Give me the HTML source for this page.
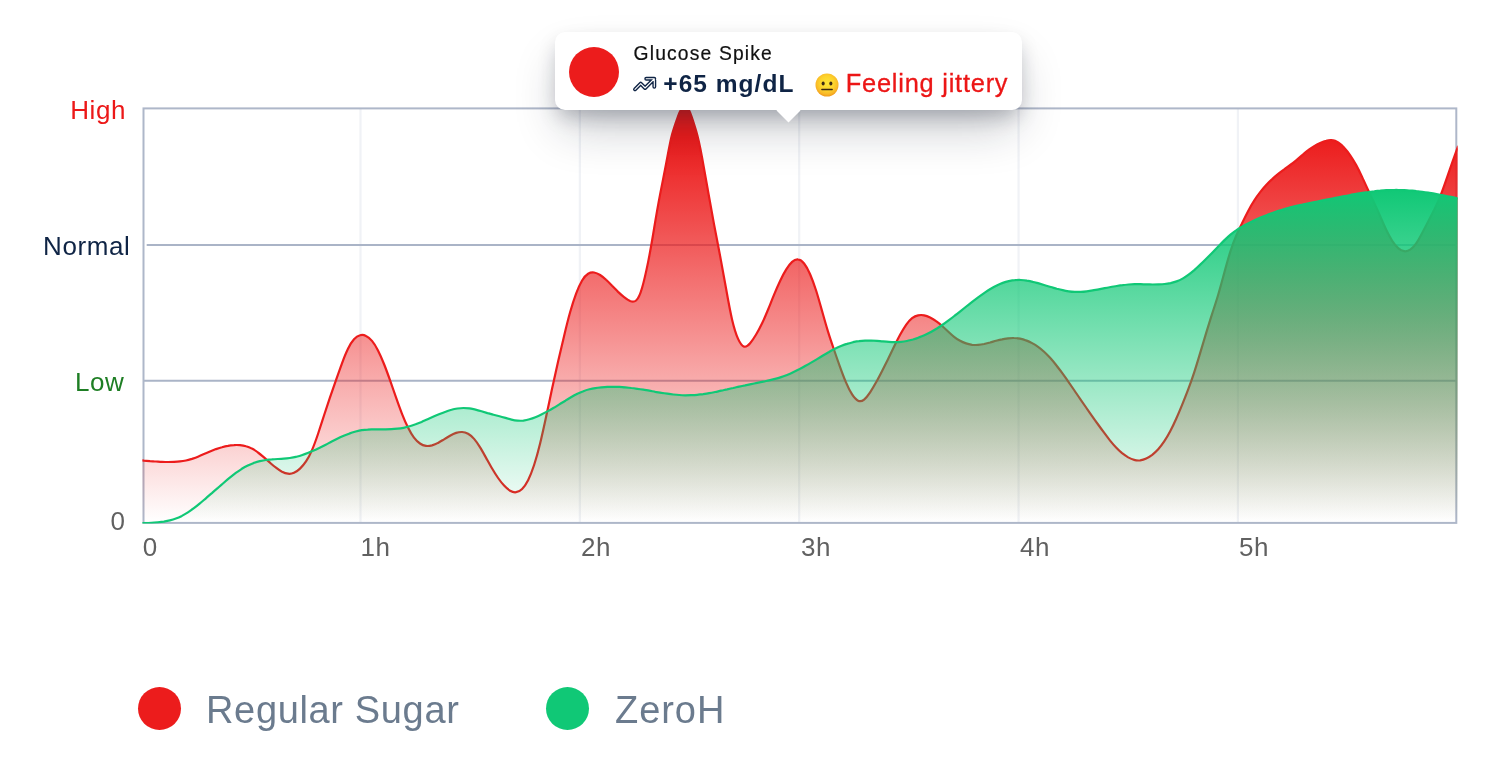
<!DOCTYPE html>
<html lang="en">
<head>
<meta charset="utf-8">
<title>Glucose chart</title>
<style>
  html, body { margin: 0; padding: 0; background: #ffffff; }
  body { width: 1500px; height: 775px; position: relative; overflow: hidden;
         font-family: "Liberation Sans", sans-serif; }
  #chart { position: absolute; left: 0; top: 0; width: 1500px; height: 775px; display: block; }
  .ylab { font-size: 26px; letter-spacing: 0.6px; }
  .xlab { font-size: 26px; fill: #616161; letter-spacing: 0.6px; }
  #tip { position: absolute; left: 555px; top: 32px; width: 467px; height: 78px;
         background: #ffffff; border-radius: 10px;
         box-shadow: 0 9px 20px -4px rgba(15, 23, 42, 0.27), 0 24px 48px -7px rgba(15, 23, 42, 0.24); }
  #tip .arrow { position: absolute; left: 225px; top: 69.5px; width: 17px; height: 17px;
         background: #ffffff; transform: rotate(45deg); }
  #tip .dot { position: absolute; left: 13.8px; top: 14.6px; width: 50px; height: 50px;
         border-radius: 50%; background: #ec1c1c; }
  #tip .title { position: absolute; left: 78.6px; top: 9.7px; font-size: 19.3px; line-height: 24px;
         color: #111111; letter-spacing: 1.15px; white-space: nowrap; -webkit-text-stroke: 0.2px #111111; }
  #tip .val { position: absolute; left: 108.3px; top: 36.5px; font-size: 24.5px; line-height: 30px;
         font-weight: 700; color: #0f2445; letter-spacing: 1.03px; white-space: nowrap; }
  #tip .feel { position: absolute; left: 290.8px; top: 36.4px; font-size: 25.4px; line-height: 30px;
         color: #ec1616; letter-spacing: 0.77px; white-space: nowrap; -webkit-text-stroke: 0.3px #ec1616; }
  #tip svg.trend { position: absolute; left: 76px; top: 42px; width: 28px; height: 20px; overflow: visible; }
  #tip svg.face { position: absolute; left: 259.1px; top: 39.6px; width: 26px; height: 26px; overflow: visible; }
  .legend { position: absolute; top: 687px; height: 43px; }
  .legend .dot { position: absolute; left: 0; top: 0; width: 43px; height: 43px; border-radius: 50%; }
  .legend .txt { position: absolute; left: 68px; top: 1px; font-size: 38px; line-height: 44px;
         color: #6b7b8e; white-space: nowrap; letter-spacing: 0.65px; }
</style>
</head>
<body>
<svg id="chart" viewBox="0 0 1500 775">
  <defs>
    <linearGradient id="gRed" gradientUnits="userSpaceOnUse" x1="0" y1="138" x2="0" y2="522">
      <stop offset="0" stop-color="#ec1c1c" stop-opacity="1"/>
      <stop offset="1" stop-color="#ec1c1c" stop-opacity="0"/>
    </linearGradient>
    <linearGradient id="gGrn" gradientUnits="userSpaceOnUse" x1="0" y1="189" x2="0" y2="522">
      <stop offset="0" stop-color="#10c876" stop-opacity="1"/>
      <stop offset="1" stop-color="#10c876" stop-opacity="0"/>
    </linearGradient>
    <clipPath id="plot"><rect x="142.4" y="100" width="1315.2" height="423.5"/></clipPath>
  </defs>

  <!-- vertical grid -->
  <g stroke="#f0f2f6" stroke-width="2.2">
    <line x1="360.5" y1="109" x2="360.5" y2="522"/>
    <line x1="579.85" y1="109" x2="579.85" y2="522"/>
    <line x1="799.2" y1="109" x2="799.2" y2="522"/>
    <line x1="1018.55" y1="109" x2="1018.55" y2="522"/>
    <line x1="1237.9" y1="109" x2="1237.9" y2="522"/>
  </g>
  <!-- horizontal grid -->
  <g stroke="#aab4c7" stroke-width="2">
    <line x1="146.7" y1="245" x2="1456" y2="245"/>
    <line x1="144" y1="380.7" x2="1456" y2="380.7"/>
  </g>

  <!-- frame -->
  <rect x="143.5" y="108.4" width="1312.8" height="414.5" fill="none" stroke="#aeb7c9" stroke-width="2"/>

  <!-- series -->
  <g clip-path="url(#plot)">
    <path d="M120.0 458.5C122.0 458.7 124.0 458.9 126.0 459.1C128.0 459.2 130.0 459.4 132.0 459.6C134.0 459.8 136.0 459.9 138.0 460.1C140.0 460.3 142.0 460.4 144.0 460.6C146.0 460.7 148.0 460.9 150.0 461.1C152.0 461.2 154.0 461.4 156.0 461.5C158.0 461.6 160.0 461.8 162.0 461.8C164.0 461.9 166.0 462.0 168.0 462.0C170.0 462.0 172.0 462.0 174.0 461.9C176.0 461.8 178.0 461.7 180.0 461.4C182.0 461.2 184.0 460.9 186.0 460.5C188.0 460.1 190.0 459.5 192.0 458.9C194.0 458.2 196.0 457.5 198.0 456.7C200.0 455.9 202.0 455.0 204.0 454.1C206.0 453.3 208.0 452.4 210.0 451.5C212.0 450.7 214.0 449.9 216.0 449.1C218.0 448.4 220.0 447.7 222.0 447.2C224.0 446.6 226.0 446.1 228.0 445.8C230.0 445.4 232.0 445.2 234.0 445.1C236.0 444.9 238.0 445.0 240.0 445.1C242.0 445.3 244.0 445.6 246.0 446.2C248.0 446.7 250.0 447.5 252.0 448.6C254.0 449.6 256.0 450.9 258.0 452.5C260.0 454.0 262.0 455.7 264.0 457.4C266.0 459.2 268.0 461.0 270.0 462.7C272.0 464.5 274.0 466.2 276.0 467.7C278.0 469.3 280.0 470.6 282.0 471.7C284.0 472.7 286.0 473.5 288.0 473.7C290.0 474.0 292.0 473.7 294.0 472.8C296.0 471.9 298.0 470.5 300.0 468.6C302.0 466.7 304.0 464.4 306.0 461.4C308.0 458.5 310.0 454.8 312.0 450.1C314.0 445.5 316.0 439.9 318.0 434.0C320.0 428.0 322.0 421.7 324.0 415.5C326.0 409.3 328.0 403.3 330.0 397.4C332.0 391.6 334.0 385.8 336.0 380.1C338.0 374.4 340.0 368.7 342.0 363.3C344.0 357.9 346.0 352.9 348.0 348.8C350.0 344.7 352.0 341.5 354.0 339.3C356.0 337.1 358.0 335.8 360.0 335.3C362.0 334.7 364.0 334.9 366.0 335.9C368.0 336.8 370.0 338.5 372.0 340.9C374.0 343.3 376.0 346.5 378.0 350.4C380.0 354.3 382.0 358.9 384.0 364.0C386.0 369.0 388.0 374.5 390.0 380.1C392.0 385.8 394.0 391.7 396.0 397.4C398.0 403.1 400.0 408.7 402.0 413.8C404.0 418.9 406.0 423.5 408.0 427.5C410.0 431.5 412.0 434.9 414.0 437.6C416.0 440.2 418.0 442.2 420.0 443.5C422.0 444.9 424.0 445.6 426.0 445.9C428.0 446.2 430.0 445.9 432.0 445.4C434.0 444.8 436.0 444.0 438.0 442.9C440.0 441.9 442.0 440.6 444.0 439.4C446.0 438.1 448.0 436.9 450.0 435.7C452.0 434.6 454.0 433.6 456.1 432.9C458.1 432.2 460.1 431.9 462.1 432.0C464.1 432.1 466.1 432.7 468.1 433.8C470.1 434.9 472.1 436.6 474.1 438.9C476.1 441.2 478.1 444.1 480.1 447.4C482.1 450.6 484.1 454.3 486.1 457.9C488.1 461.5 490.1 465.2 492.1 468.5C494.1 471.9 496.1 475.1 498.1 478.0C500.1 480.8 502.1 483.4 504.1 485.6C506.1 487.8 508.1 489.6 510.1 490.7C512.1 491.9 514.1 492.5 516.1 492.2C518.1 492.0 520.1 491.0 522.1 489.0C524.1 487.0 526.1 484.1 528.1 480.2C530.1 476.2 532.1 471.1 534.1 465.0C536.1 458.9 538.1 451.7 540.1 443.5C542.1 435.3 544.1 426.2 546.1 416.8C548.1 407.4 550.1 397.9 552.1 388.5C554.1 379.2 556.1 370.2 558.1 361.4C560.1 352.7 562.1 344.2 564.1 335.9C566.1 327.5 568.1 319.4 570.1 312.3C572.1 305.2 574.1 298.9 576.1 293.6C578.1 288.3 580.1 283.9 582.1 280.5C584.1 277.1 586.1 274.9 588.1 273.7C590.1 272.5 592.1 272.2 594.1 272.5C596.1 272.8 598.1 273.7 600.1 275.0C602.1 276.3 604.1 277.9 606.1 279.8C608.1 281.6 610.1 283.7 612.1 285.8C614.1 287.8 616.1 289.9 618.1 291.9C620.1 293.8 622.1 295.6 624.1 297.1C626.1 298.7 628.1 300.1 630.1 301.0C632.1 301.8 634.1 302.1 636.1 300.5C638.1 298.9 640.1 294.9 642.1 287.8C644.1 280.8 646.1 271.9 648.1 262.1C650.1 252.3 652.1 240.7 654.1 228.5C656.1 216.3 658.1 204.7 660.1 194.4C662.1 184.0 664.1 174.3 666.1 163.8C668.1 153.4 670.1 141.7 672.1 134.4C674.1 127.1 676.1 121.8 678.1 116.2C680.1 110.7 682.1 106.7 684.1 106.0C686.1 105.3 688.1 107.6 690.1 112.6C692.1 117.6 694.1 124.0 696.1 130.9C698.1 137.7 700.1 146.9 702.1 157.7C704.1 168.4 706.1 180.0 708.1 191.5C710.1 203.0 712.1 214.1 714.1 224.6C716.1 235.2 718.1 245.3 720.1 255.9C722.1 266.5 724.1 277.5 726.1 288.8C728.1 300.1 730.1 311.2 732.1 319.7C734.1 328.2 736.1 334.5 738.1 338.9C740.1 343.4 742.1 346.0 744.1 346.6C746.1 347.2 748.1 345.7 750.1 343.3C752.1 340.9 754.1 337.8 756.1 334.5C758.1 331.2 760.1 327.5 762.1 323.3C764.1 319.1 766.1 314.4 768.1 309.5C770.1 304.6 772.1 299.5 774.1 294.7C776.1 289.8 778.1 285.2 780.1 281.0C782.1 276.7 784.1 272.9 786.1 269.7C788.1 266.4 790.1 263.7 792.1 261.9C794.1 260.1 796.1 259.1 798.1 259.4C800.1 259.6 802.1 261.0 804.1 263.5C806.1 266.0 808.1 269.6 810.1 274.2C812.1 278.8 814.1 284.3 816.1 290.5C818.1 296.8 820.1 303.9 822.1 311.1C824.1 318.2 826.1 325.4 828.1 331.9C830.1 338.4 832.1 344.2 834.1 350.0C836.1 355.8 838.1 361.6 840.1 367.1C842.1 372.7 844.1 378.0 846.1 382.6C848.1 387.3 850.1 391.3 852.1 394.4C854.1 397.5 856.1 399.8 858.1 400.7C860.1 401.7 862.1 401.2 864.1 399.6C866.1 398.0 868.1 395.4 870.1 392.4C872.1 389.3 874.1 385.9 876.1 382.3C878.1 378.7 880.1 374.8 882.1 370.9C884.1 367.0 886.1 362.9 888.1 358.9C890.1 354.8 892.1 350.6 894.1 346.5C896.1 342.5 898.1 338.5 900.1 334.8C902.1 331.1 904.1 327.7 906.1 324.8C908.1 322.0 910.1 319.7 912.1 318.1C914.1 316.6 916.1 315.7 918.1 315.3C920.1 314.9 922.1 314.9 924.1 315.3C926.1 315.7 928.1 316.5 930.1 317.5C932.1 318.5 934.1 319.7 936.1 321.2C938.1 322.6 940.1 324.2 942.1 326.0C944.1 327.7 946.1 329.6 948.1 331.5C950.1 333.4 952.1 335.2 954.1 336.8C956.1 338.4 958.1 339.7 960.1 340.8C962.1 341.9 964.1 342.7 966.1 343.4C968.1 344.1 970.1 344.5 972.1 344.8C974.1 345.0 976.1 345.1 978.1 344.9C980.1 344.7 982.1 344.4 984.1 344.0C986.1 343.5 988.1 343.0 990.1 342.5C992.1 341.9 994.1 341.4 996.1 340.8C998.1 340.3 1000.1 339.8 1002.1 339.4C1004.1 338.9 1006.1 338.6 1008.1 338.3C1010.1 338.1 1012.1 337.9 1014.1 338.0C1016.1 338.0 1018.1 338.2 1020.1 338.6C1022.1 339.0 1024.1 339.6 1026.1 340.4C1028.1 341.1 1030.1 342.0 1032.1 343.1C1034.1 344.2 1036.1 345.4 1038.1 346.8C1040.1 348.2 1042.1 349.9 1044.1 351.7C1046.1 353.5 1048.1 355.6 1050.1 357.8C1052.1 360.0 1054.1 362.4 1056.1 365.0C1058.1 367.5 1060.1 370.2 1062.1 372.9C1064.1 375.6 1066.1 378.5 1068.1 381.3C1070.1 384.2 1072.1 387.1 1074.1 390.0C1076.1 393.0 1078.1 395.9 1080.1 398.8C1082.1 401.7 1084.1 404.6 1086.1 407.5C1088.1 410.4 1090.1 413.2 1092.1 416.1C1094.1 418.9 1096.1 421.7 1098.1 424.5C1100.1 427.3 1102.1 430.0 1104.1 432.7C1106.1 435.4 1108.1 438.1 1110.1 440.6C1112.1 443.1 1114.1 445.4 1116.1 447.5C1118.1 449.6 1120.1 451.5 1122.1 453.2C1124.2 454.8 1126.2 456.2 1128.2 457.4C1130.2 458.5 1132.2 459.4 1134.2 459.9C1136.2 460.5 1138.2 460.6 1140.2 460.4C1142.2 460.1 1144.2 459.5 1146.2 458.5C1148.2 457.6 1150.2 456.3 1152.2 454.8C1154.2 453.2 1156.2 451.4 1158.2 449.2C1160.2 447.0 1162.2 444.4 1164.2 441.4C1166.2 438.4 1168.2 435.0 1170.2 431.2C1172.2 427.4 1174.2 423.2 1176.2 418.7C1178.2 414.3 1180.2 409.5 1182.2 404.6C1184.2 399.7 1186.2 394.7 1188.2 389.4C1190.2 384.2 1192.2 378.6 1194.2 372.4C1196.2 366.3 1198.2 359.6 1200.2 352.9C1202.2 346.2 1204.2 339.4 1206.2 332.9C1208.2 326.3 1210.2 319.8 1212.2 313.6C1214.2 307.4 1216.2 301.4 1218.2 294.7C1220.2 288.1 1222.2 280.5 1224.2 273.1C1226.2 265.7 1228.2 258.5 1230.2 252.1C1232.2 245.7 1234.2 240.4 1236.2 235.8C1238.2 231.2 1240.2 227.1 1242.2 222.9C1244.2 218.7 1246.2 214.7 1248.2 210.9C1250.2 207.1 1252.2 203.7 1254.2 200.6C1256.2 197.4 1258.2 194.6 1260.2 192.1C1262.2 189.5 1264.2 187.2 1266.2 185.0C1268.2 182.9 1270.2 180.9 1272.2 179.1C1274.2 177.2 1276.2 175.5 1278.2 173.9C1280.2 172.3 1282.2 170.8 1284.2 169.4C1286.2 167.9 1288.2 166.5 1290.2 165.0C1292.2 163.5 1294.2 162.0 1296.2 160.3C1298.2 158.7 1300.2 156.9 1302.2 155.2C1304.2 153.4 1306.2 151.7 1308.2 150.2C1310.2 148.6 1312.2 147.3 1314.2 146.1C1316.2 144.9 1318.2 143.9 1320.2 143.0C1322.2 142.1 1324.2 141.2 1326.2 140.7C1328.2 140.1 1330.2 139.8 1332.2 140.2C1334.2 140.5 1336.2 141.3 1338.2 142.5C1340.2 143.8 1342.2 145.5 1344.2 147.7C1346.2 149.8 1348.2 152.3 1350.2 155.3C1352.2 158.2 1354.2 161.5 1356.2 165.1C1358.2 168.8 1360.2 172.8 1362.2 177.1C1364.2 181.5 1366.2 186.0 1368.2 190.2C1370.2 194.5 1372.2 198.6 1374.2 202.9C1376.2 207.1 1378.2 211.6 1380.2 216.2C1382.2 220.8 1384.2 225.5 1386.2 229.8C1388.2 234.0 1390.2 237.7 1392.2 240.8C1394.2 243.9 1396.2 246.4 1398.2 248.1C1400.2 249.9 1402.2 250.9 1404.2 251.2C1406.2 251.5 1408.2 251.0 1410.2 249.7C1412.2 248.4 1414.2 246.2 1416.2 243.3C1418.2 240.4 1420.2 236.7 1422.2 232.9C1424.2 229.1 1426.2 225.3 1428.2 221.4C1430.2 217.6 1432.2 213.8 1434.2 209.7C1436.2 205.6 1438.2 201.2 1440.2 196.3C1442.2 191.4 1444.2 185.8 1446.2 179.9C1448.2 174.1 1450.2 168.2 1452.2 162.5C1454.2 156.9 1456.2 151.3 1458.2 145.8L1458.2 523.2L120.0 523.2Z" fill="url(#gRed)"/>
    <path d="M120.0 458.5C122.0 458.7 124.0 458.9 126.0 459.1C128.0 459.2 130.0 459.4 132.0 459.6C134.0 459.8 136.0 459.9 138.0 460.1C140.0 460.3 142.0 460.4 144.0 460.6C146.0 460.7 148.0 460.9 150.0 461.1C152.0 461.2 154.0 461.4 156.0 461.5C158.0 461.6 160.0 461.8 162.0 461.8C164.0 461.9 166.0 462.0 168.0 462.0C170.0 462.0 172.0 462.0 174.0 461.9C176.0 461.8 178.0 461.7 180.0 461.4C182.0 461.2 184.0 460.9 186.0 460.5C188.0 460.1 190.0 459.5 192.0 458.9C194.0 458.2 196.0 457.5 198.0 456.7C200.0 455.9 202.0 455.0 204.0 454.1C206.0 453.3 208.0 452.4 210.0 451.5C212.0 450.7 214.0 449.9 216.0 449.1C218.0 448.4 220.0 447.7 222.0 447.2C224.0 446.6 226.0 446.1 228.0 445.8C230.0 445.4 232.0 445.2 234.0 445.1C236.0 444.9 238.0 445.0 240.0 445.1C242.0 445.3 244.0 445.6 246.0 446.2C248.0 446.7 250.0 447.5 252.0 448.6C254.0 449.6 256.0 450.9 258.0 452.5C260.0 454.0 262.0 455.7 264.0 457.4C266.0 459.2 268.0 461.0 270.0 462.7C272.0 464.5 274.0 466.2 276.0 467.7C278.0 469.3 280.0 470.6 282.0 471.7C284.0 472.7 286.0 473.5 288.0 473.7C290.0 474.0 292.0 473.7 294.0 472.8C296.0 471.9 298.0 470.5 300.0 468.6C302.0 466.7 304.0 464.4 306.0 461.4C308.0 458.5 310.0 454.8 312.0 450.1C314.0 445.5 316.0 439.9 318.0 434.0C320.0 428.0 322.0 421.7 324.0 415.5C326.0 409.3 328.0 403.3 330.0 397.4C332.0 391.6 334.0 385.8 336.0 380.1C338.0 374.4 340.0 368.7 342.0 363.3C344.0 357.9 346.0 352.9 348.0 348.8C350.0 344.7 352.0 341.5 354.0 339.3C356.0 337.1 358.0 335.8 360.0 335.3C362.0 334.7 364.0 334.9 366.0 335.9C368.0 336.8 370.0 338.5 372.0 340.9C374.0 343.3 376.0 346.5 378.0 350.4C380.0 354.3 382.0 358.9 384.0 364.0C386.0 369.0 388.0 374.5 390.0 380.1C392.0 385.8 394.0 391.7 396.0 397.4C398.0 403.1 400.0 408.7 402.0 413.8C404.0 418.9 406.0 423.5 408.0 427.5C410.0 431.5 412.0 434.9 414.0 437.6C416.0 440.2 418.0 442.2 420.0 443.5C422.0 444.9 424.0 445.6 426.0 445.9C428.0 446.2 430.0 445.9 432.0 445.4C434.0 444.8 436.0 444.0 438.0 442.9C440.0 441.9 442.0 440.6 444.0 439.4C446.0 438.1 448.0 436.9 450.0 435.7C452.0 434.6 454.0 433.6 456.1 432.9C458.1 432.2 460.1 431.9 462.1 432.0C464.1 432.1 466.1 432.7 468.1 433.8C470.1 434.9 472.1 436.6 474.1 438.9C476.1 441.2 478.1 444.1 480.1 447.4C482.1 450.6 484.1 454.3 486.1 457.9C488.1 461.5 490.1 465.2 492.1 468.5C494.1 471.9 496.1 475.1 498.1 478.0C500.1 480.8 502.1 483.4 504.1 485.6C506.1 487.8 508.1 489.6 510.1 490.7C512.1 491.9 514.1 492.5 516.1 492.2C518.1 492.0 520.1 491.0 522.1 489.0C524.1 487.0 526.1 484.1 528.1 480.2C530.1 476.2 532.1 471.1 534.1 465.0C536.1 458.9 538.1 451.7 540.1 443.5C542.1 435.3 544.1 426.2 546.1 416.8C548.1 407.4 550.1 397.9 552.1 388.5C554.1 379.2 556.1 370.2 558.1 361.4C560.1 352.7 562.1 344.2 564.1 335.9C566.1 327.5 568.1 319.4 570.1 312.3C572.1 305.2 574.1 298.9 576.1 293.6C578.1 288.3 580.1 283.9 582.1 280.5C584.1 277.1 586.1 274.9 588.1 273.7C590.1 272.5 592.1 272.2 594.1 272.5C596.1 272.8 598.1 273.7 600.1 275.0C602.1 276.3 604.1 277.9 606.1 279.8C608.1 281.6 610.1 283.7 612.1 285.8C614.1 287.8 616.1 289.9 618.1 291.9C620.1 293.8 622.1 295.6 624.1 297.1C626.1 298.7 628.1 300.1 630.1 301.0C632.1 301.8 634.1 302.1 636.1 300.5C638.1 298.9 640.1 294.9 642.1 287.8C644.1 280.8 646.1 271.9 648.1 262.1C650.1 252.3 652.1 240.7 654.1 228.5C656.1 216.3 658.1 204.7 660.1 194.4C662.1 184.0 664.1 174.3 666.1 163.8C668.1 153.4 670.1 141.7 672.1 134.4C674.1 127.1 676.1 121.8 678.1 116.2C680.1 110.7 682.1 106.7 684.1 106.0C686.1 105.3 688.1 107.6 690.1 112.6C692.1 117.6 694.1 124.0 696.1 130.9C698.1 137.7 700.1 146.9 702.1 157.7C704.1 168.4 706.1 180.0 708.1 191.5C710.1 203.0 712.1 214.1 714.1 224.6C716.1 235.2 718.1 245.3 720.1 255.9C722.1 266.5 724.1 277.5 726.1 288.8C728.1 300.1 730.1 311.2 732.1 319.7C734.1 328.2 736.1 334.5 738.1 338.9C740.1 343.4 742.1 346.0 744.1 346.6C746.1 347.2 748.1 345.7 750.1 343.3C752.1 340.9 754.1 337.8 756.1 334.5C758.1 331.2 760.1 327.5 762.1 323.3C764.1 319.1 766.1 314.4 768.1 309.5C770.1 304.6 772.1 299.5 774.1 294.7C776.1 289.8 778.1 285.2 780.1 281.0C782.1 276.7 784.1 272.9 786.1 269.7C788.1 266.4 790.1 263.7 792.1 261.9C794.1 260.1 796.1 259.1 798.1 259.4C800.1 259.6 802.1 261.0 804.1 263.5C806.1 266.0 808.1 269.6 810.1 274.2C812.1 278.8 814.1 284.3 816.1 290.5C818.1 296.8 820.1 303.9 822.1 311.1C824.1 318.2 826.1 325.4 828.1 331.9C830.1 338.4 832.1 344.2 834.1 350.0C836.1 355.8 838.1 361.6 840.1 367.1C842.1 372.7 844.1 378.0 846.1 382.6C848.1 387.3 850.1 391.3 852.1 394.4C854.1 397.5 856.1 399.8 858.1 400.7C860.1 401.7 862.1 401.2 864.1 399.6C866.1 398.0 868.1 395.4 870.1 392.4C872.1 389.3 874.1 385.9 876.1 382.3C878.1 378.7 880.1 374.8 882.1 370.9C884.1 367.0 886.1 362.9 888.1 358.9C890.1 354.8 892.1 350.6 894.1 346.5C896.1 342.5 898.1 338.5 900.1 334.8C902.1 331.1 904.1 327.7 906.1 324.8C908.1 322.0 910.1 319.7 912.1 318.1C914.1 316.6 916.1 315.7 918.1 315.3C920.1 314.9 922.1 314.9 924.1 315.3C926.1 315.7 928.1 316.5 930.1 317.5C932.1 318.5 934.1 319.7 936.1 321.2C938.1 322.6 940.1 324.2 942.1 326.0C944.1 327.7 946.1 329.6 948.1 331.5C950.1 333.4 952.1 335.2 954.1 336.8C956.1 338.4 958.1 339.7 960.1 340.8C962.1 341.9 964.1 342.7 966.1 343.4C968.1 344.1 970.1 344.5 972.1 344.8C974.1 345.0 976.1 345.1 978.1 344.9C980.1 344.7 982.1 344.4 984.1 344.0C986.1 343.5 988.1 343.0 990.1 342.5C992.1 341.9 994.1 341.4 996.1 340.8C998.1 340.3 1000.1 339.8 1002.1 339.4C1004.1 338.9 1006.1 338.6 1008.1 338.3C1010.1 338.1 1012.1 337.9 1014.1 338.0C1016.1 338.0 1018.1 338.2 1020.1 338.6C1022.1 339.0 1024.1 339.6 1026.1 340.4C1028.1 341.1 1030.1 342.0 1032.1 343.1C1034.1 344.2 1036.1 345.4 1038.1 346.8C1040.1 348.2 1042.1 349.9 1044.1 351.7C1046.1 353.5 1048.1 355.6 1050.1 357.8C1052.1 360.0 1054.1 362.4 1056.1 365.0C1058.1 367.5 1060.1 370.2 1062.1 372.9C1064.1 375.6 1066.1 378.5 1068.1 381.3C1070.1 384.2 1072.1 387.1 1074.1 390.0C1076.1 393.0 1078.1 395.9 1080.1 398.8C1082.1 401.7 1084.1 404.6 1086.1 407.5C1088.1 410.4 1090.1 413.2 1092.1 416.1C1094.1 418.9 1096.1 421.7 1098.1 424.5C1100.1 427.3 1102.1 430.0 1104.1 432.7C1106.1 435.4 1108.1 438.1 1110.1 440.6C1112.1 443.1 1114.1 445.4 1116.1 447.5C1118.1 449.6 1120.1 451.5 1122.1 453.2C1124.2 454.8 1126.2 456.2 1128.2 457.4C1130.2 458.5 1132.2 459.4 1134.2 459.9C1136.2 460.5 1138.2 460.6 1140.2 460.4C1142.2 460.1 1144.2 459.5 1146.2 458.5C1148.2 457.6 1150.2 456.3 1152.2 454.8C1154.2 453.2 1156.2 451.4 1158.2 449.2C1160.2 447.0 1162.2 444.4 1164.2 441.4C1166.2 438.4 1168.2 435.0 1170.2 431.2C1172.2 427.4 1174.2 423.2 1176.2 418.7C1178.2 414.3 1180.2 409.5 1182.2 404.6C1184.2 399.7 1186.2 394.7 1188.2 389.4C1190.2 384.2 1192.2 378.6 1194.2 372.4C1196.2 366.3 1198.2 359.6 1200.2 352.9C1202.2 346.2 1204.2 339.4 1206.2 332.9C1208.2 326.3 1210.2 319.8 1212.2 313.6C1214.2 307.4 1216.2 301.4 1218.2 294.7C1220.2 288.1 1222.2 280.5 1224.2 273.1C1226.2 265.7 1228.2 258.5 1230.2 252.1C1232.2 245.7 1234.2 240.4 1236.2 235.8C1238.2 231.2 1240.2 227.1 1242.2 222.9C1244.2 218.7 1246.2 214.7 1248.2 210.9C1250.2 207.1 1252.2 203.7 1254.2 200.6C1256.2 197.4 1258.2 194.6 1260.2 192.1C1262.2 189.5 1264.2 187.2 1266.2 185.0C1268.2 182.9 1270.2 180.9 1272.2 179.1C1274.2 177.2 1276.2 175.5 1278.2 173.9C1280.2 172.3 1282.2 170.8 1284.2 169.4C1286.2 167.9 1288.2 166.5 1290.2 165.0C1292.2 163.5 1294.2 162.0 1296.2 160.3C1298.2 158.7 1300.2 156.9 1302.2 155.2C1304.2 153.4 1306.2 151.7 1308.2 150.2C1310.2 148.6 1312.2 147.3 1314.2 146.1C1316.2 144.9 1318.2 143.9 1320.2 143.0C1322.2 142.1 1324.2 141.2 1326.2 140.7C1328.2 140.1 1330.2 139.8 1332.2 140.2C1334.2 140.5 1336.2 141.3 1338.2 142.5C1340.2 143.8 1342.2 145.5 1344.2 147.7C1346.2 149.8 1348.2 152.3 1350.2 155.3C1352.2 158.2 1354.2 161.5 1356.2 165.1C1358.2 168.8 1360.2 172.8 1362.2 177.1C1364.2 181.5 1366.2 186.0 1368.2 190.2C1370.2 194.5 1372.2 198.6 1374.2 202.9C1376.2 207.1 1378.2 211.6 1380.2 216.2C1382.2 220.8 1384.2 225.5 1386.2 229.8C1388.2 234.0 1390.2 237.7 1392.2 240.8C1394.2 243.9 1396.2 246.4 1398.2 248.1C1400.2 249.9 1402.2 250.9 1404.2 251.2C1406.2 251.5 1408.2 251.0 1410.2 249.7C1412.2 248.4 1414.2 246.2 1416.2 243.3C1418.2 240.4 1420.2 236.7 1422.2 232.9C1424.2 229.1 1426.2 225.3 1428.2 221.4C1430.2 217.6 1432.2 213.8 1434.2 209.7C1436.2 205.6 1438.2 201.2 1440.2 196.3C1442.2 191.4 1444.2 185.8 1446.2 179.9C1448.2 174.1 1450.2 168.2 1452.2 162.5C1454.2 156.9 1456.2 151.3 1458.2 145.8" fill="none" stroke="#ec1c1c" stroke-width="2.2" stroke-linejoin="round"/>
    <path d="M110.0 523.3C112.0 523.3 114.0 523.3 116.0 523.3C118.0 523.3 120.0 523.3 122.0 523.3C124.0 523.3 126.0 523.3 128.0 523.3C130.0 523.3 132.0 523.3 134.0 523.3C136.0 523.2 138.0 523.2 140.0 523.2C142.0 523.2 144.0 523.2 146.0 523.1C147.9 523.1 149.9 523.0 151.9 522.9C153.9 522.8 155.9 522.6 157.9 522.4C159.9 522.2 161.9 522.0 163.9 521.7C165.9 521.3 167.9 520.9 169.9 520.4C171.9 519.9 173.9 519.3 175.9 518.5C177.9 517.8 179.9 516.9 181.9 515.9C183.9 514.8 185.9 513.7 187.9 512.4C189.9 511.1 191.9 509.7 193.9 508.2C195.9 506.7 197.9 505.1 199.9 503.4C201.9 501.8 203.9 500.0 205.9 498.3C207.9 496.6 209.9 494.8 211.9 493.1C213.9 491.3 215.9 489.6 217.9 487.9C219.9 486.1 221.9 484.4 223.8 482.7C225.8 480.9 227.8 479.2 229.8 477.6C231.8 476.0 233.8 474.4 235.8 472.9C237.8 471.5 239.8 470.1 241.8 468.8C243.8 467.6 245.8 466.5 247.8 465.5C249.8 464.5 251.8 463.7 253.8 462.9C255.8 462.2 257.8 461.6 259.8 461.1C261.8 460.7 263.8 460.3 265.8 460.0C267.8 459.7 269.8 459.5 271.8 459.4C273.8 459.2 275.8 459.1 277.8 459.0C279.8 458.9 281.8 458.8 283.8 458.6C285.8 458.5 287.8 458.3 289.8 458.0C291.8 457.7 293.8 457.4 295.8 456.9C297.7 456.4 299.7 455.9 301.7 455.2C303.7 454.6 305.7 453.9 307.7 453.1C309.7 452.3 311.7 451.5 313.7 450.6C315.7 449.7 317.7 448.7 319.7 447.7C321.7 446.7 323.7 445.7 325.7 444.7C327.7 443.7 329.7 442.6 331.7 441.6C333.7 440.6 335.7 439.6 337.7 438.6C339.7 437.6 341.7 436.7 343.7 435.8C345.7 435.0 347.7 434.2 349.7 433.4C351.7 432.7 353.7 432.1 355.7 431.5C357.7 431.0 359.7 430.5 361.7 430.2C363.7 429.9 365.7 429.7 367.7 429.6C369.7 429.4 371.7 429.4 373.6 429.3C375.6 429.3 377.6 429.3 379.6 429.3C381.6 429.3 383.6 429.3 385.6 429.3C387.6 429.3 389.6 429.3 391.6 429.2C393.6 429.1 395.6 428.9 397.6 428.7C399.6 428.5 401.6 428.2 403.6 427.8C405.6 427.4 407.6 426.9 409.6 426.3C411.6 425.7 413.6 425.0 415.6 424.3C417.6 423.5 419.6 422.7 421.6 421.9C423.6 421.0 425.6 420.2 427.6 419.3C429.6 418.4 431.6 417.5 433.6 416.6C435.6 415.7 437.6 414.8 439.6 414.0C441.6 413.2 443.6 412.4 445.6 411.7C447.5 410.9 449.5 410.3 451.5 409.8C453.5 409.2 455.5 408.8 457.5 408.5C459.5 408.2 461.5 408.0 463.5 408.0C465.5 408.0 467.5 408.1 469.5 408.4C471.5 408.7 473.5 409.2 475.5 409.6C477.5 410.1 479.5 410.7 481.5 411.3C483.5 411.9 485.5 412.5 487.5 413.1C489.5 413.6 491.5 414.2 493.5 414.7C495.5 415.2 497.5 415.7 499.5 416.2C501.5 416.7 503.5 417.3 505.5 417.9C507.5 418.5 509.5 419.1 511.5 419.6C513.5 420.1 515.5 420.5 517.5 420.6C519.5 420.8 521.5 420.8 523.4 420.6C525.4 420.3 527.4 419.9 529.4 419.3C531.4 418.7 533.4 418.0 535.4 417.2C537.4 416.4 539.4 415.5 541.4 414.5C543.4 413.5 545.4 412.5 547.4 411.4C549.4 410.3 551.4 409.2 553.4 408.0C555.4 406.9 557.4 405.6 559.4 404.4C561.4 403.2 563.4 401.9 565.4 400.7C567.4 399.4 569.4 398.2 571.4 397.0C573.4 395.8 575.4 394.7 577.4 393.7C579.4 392.8 581.4 391.9 583.4 391.2C585.4 390.4 587.4 389.8 589.4 389.3C591.4 388.8 593.4 388.4 595.4 388.1C597.3 387.8 599.3 387.6 601.3 387.4C603.3 387.2 605.3 387.0 607.3 386.9C609.3 386.8 611.3 386.8 613.3 386.8C615.3 386.8 617.3 386.8 619.3 386.9C621.3 387.0 623.3 387.2 625.3 387.3C627.3 387.5 629.3 387.7 631.3 388.0C633.3 388.2 635.3 388.5 637.3 388.8C639.3 389.1 641.3 389.4 643.3 389.7C645.3 390.0 647.3 390.4 649.3 390.7C651.3 391.1 653.3 391.4 655.3 391.8C657.3 392.1 659.3 392.5 661.3 392.8C663.3 393.1 665.3 393.4 667.3 393.7C669.3 394.0 671.3 394.3 673.2 394.5C675.2 394.7 677.2 394.9 679.2 395.0C681.2 395.2 683.2 395.3 685.2 395.3C687.2 395.3 689.2 395.3 691.2 395.2C693.2 395.1 695.2 395.0 697.2 394.8C699.2 394.6 701.2 394.3 703.2 394.1C705.2 393.8 707.2 393.5 709.2 393.1C711.2 392.8 713.2 392.4 715.2 392.0C717.2 391.6 719.2 391.1 721.2 390.7C723.2 390.3 725.2 389.8 727.2 389.4C729.2 388.9 731.2 388.4 733.2 388.0C735.2 387.5 737.2 387.1 739.2 386.6C741.2 386.2 743.2 385.8 745.2 385.4C747.1 384.9 749.1 384.5 751.1 384.1C753.1 383.7 755.1 383.3 757.1 382.9C759.1 382.5 761.1 382.1 763.1 381.7C765.1 381.3 767.1 380.8 769.1 380.4C771.1 380.0 773.1 379.5 775.1 378.9C777.1 378.4 779.1 377.8 781.1 377.1C783.1 376.5 785.1 375.7 787.1 374.9C789.1 374.1 791.1 373.2 793.1 372.2C795.1 371.3 797.1 370.3 799.1 369.3C801.1 368.2 803.1 367.2 805.1 366.0C807.1 364.9 809.1 363.8 811.1 362.6C813.1 361.5 815.1 360.3 817.1 359.1C819.1 357.9 821.1 356.7 823.0 355.5C825.0 354.3 827.0 353.1 829.0 352.0C831.0 350.8 833.0 349.8 835.0 348.8C837.0 347.8 839.0 346.9 841.0 346.1C843.0 345.3 845.0 344.5 847.0 343.9C849.0 343.2 851.0 342.7 853.0 342.2C855.0 341.8 857.0 341.4 859.0 341.2C861.0 340.9 863.0 340.7 865.0 340.6C867.0 340.5 869.0 340.5 871.0 340.5C873.0 340.6 875.0 340.7 877.0 340.8C879.0 341.0 881.0 341.1 883.0 341.3C885.0 341.5 887.0 341.7 889.0 341.8C891.0 342.0 893.0 342.1 895.0 342.1C896.9 342.2 898.9 342.1 900.9 341.9C902.9 341.7 904.9 341.4 906.9 341.0C908.9 340.6 910.9 340.0 912.9 339.5C914.9 338.9 916.9 338.2 918.9 337.4C920.9 336.7 922.9 335.9 924.9 335.0C926.9 334.1 928.9 333.1 930.9 332.0C932.9 330.9 934.9 329.7 936.9 328.5C938.9 327.2 940.9 325.9 942.9 324.5C944.9 323.1 946.9 321.6 948.9 320.1C950.9 318.6 952.9 317.1 954.9 315.5C956.9 314.0 958.9 312.4 960.9 310.8C962.9 309.2 964.9 307.6 966.9 306.0C968.9 304.4 970.9 302.9 972.8 301.3C974.8 299.8 976.8 298.3 978.8 296.8C980.8 295.4 982.8 294.0 984.8 292.6C986.8 291.3 988.8 290.0 990.8 288.8C992.8 287.6 994.8 286.5 996.8 285.5C998.8 284.5 1000.8 283.6 1002.8 282.9C1004.8 282.2 1006.8 281.6 1008.8 281.1C1010.8 280.7 1012.8 280.3 1014.8 280.2C1016.8 280.0 1018.8 279.9 1020.8 280.0C1022.8 280.1 1024.8 280.3 1026.8 280.7C1028.8 281.0 1030.8 281.4 1032.8 281.9C1034.8 282.3 1036.8 282.9 1038.8 283.4C1040.8 284.0 1042.8 284.6 1044.8 285.2C1046.7 285.8 1048.7 286.4 1050.7 287.0C1052.7 287.6 1054.7 288.1 1056.7 288.7C1058.7 289.2 1060.7 289.7 1062.7 290.1C1064.7 290.6 1066.7 291.0 1068.7 291.3C1070.7 291.6 1072.7 291.8 1074.7 291.9C1076.7 292.0 1078.7 292.0 1080.7 291.9C1082.7 291.8 1084.7 291.6 1086.7 291.3C1088.7 291.1 1090.7 290.8 1092.7 290.4C1094.7 290.0 1096.7 289.7 1098.7 289.3C1100.7 288.9 1102.7 288.5 1104.7 288.1C1106.7 287.8 1108.7 287.4 1110.7 287.0C1112.7 286.7 1114.7 286.3 1116.7 286.0C1118.7 285.7 1120.7 285.4 1122.6 285.2C1124.6 284.9 1126.6 284.7 1128.6 284.5C1130.6 284.4 1132.6 284.3 1134.6 284.2C1136.6 284.2 1138.6 284.2 1140.6 284.2C1142.6 284.3 1144.6 284.3 1146.6 284.4C1148.6 284.4 1150.6 284.5 1152.6 284.5C1154.6 284.5 1156.6 284.5 1158.6 284.4C1160.6 284.3 1162.6 284.2 1164.6 284.0C1166.6 283.8 1168.6 283.5 1170.6 283.1C1172.6 282.6 1174.6 282.1 1176.6 281.4C1178.6 280.7 1180.6 279.8 1182.6 278.6C1184.6 277.5 1186.6 276.2 1188.6 274.7C1190.6 273.3 1192.6 271.6 1194.6 269.9C1196.5 268.1 1198.5 266.3 1200.5 264.4C1202.5 262.5 1204.5 260.5 1206.5 258.5C1208.5 256.5 1210.5 254.5 1212.5 252.5C1214.5 250.5 1216.5 248.4 1218.5 246.3C1220.5 244.2 1222.5 242.1 1224.5 240.1C1226.5 238.2 1228.5 236.3 1230.5 234.6C1232.5 232.9 1234.5 231.4 1236.5 230.1C1238.5 228.7 1240.5 227.5 1242.5 226.4C1244.5 225.2 1246.5 224.2 1248.5 223.2C1250.5 222.2 1252.5 221.2 1254.5 220.3C1256.5 219.4 1258.5 218.5 1260.5 217.6C1262.5 216.8 1264.5 216.0 1266.5 215.2C1268.5 214.5 1270.5 213.7 1272.4 213.0C1274.4 212.3 1276.4 211.6 1278.4 210.9C1280.4 210.3 1282.4 209.7 1284.4 209.1C1286.4 208.5 1288.4 207.9 1290.4 207.4C1292.4 206.9 1294.4 206.4 1296.4 205.9C1298.4 205.4 1300.4 205.0 1302.4 204.6C1304.4 204.1 1306.4 203.7 1308.4 203.3C1310.4 202.9 1312.4 202.5 1314.4 202.1C1316.4 201.7 1318.4 201.3 1320.4 200.9C1322.4 200.5 1324.4 200.1 1326.4 199.7C1328.4 199.3 1330.4 198.9 1332.4 198.5C1334.4 198.1 1336.4 197.7 1338.4 197.3C1340.4 196.9 1342.4 196.5 1344.4 196.1C1346.3 195.8 1348.3 195.4 1350.3 195.0C1352.3 194.6 1354.3 194.3 1356.3 193.9C1358.3 193.6 1360.3 193.2 1362.3 192.9C1364.3 192.6 1366.3 192.3 1368.3 192.0C1370.3 191.7 1372.3 191.5 1374.3 191.3C1376.3 191.0 1378.3 190.8 1380.3 190.7C1382.3 190.5 1384.3 190.3 1386.3 190.2C1388.3 190.1 1390.3 190.0 1392.3 190.0C1394.3 190.0 1396.3 189.9 1398.3 190.0C1400.3 190.0 1402.3 190.1 1404.3 190.1C1406.3 190.2 1408.3 190.4 1410.3 190.5C1412.3 190.7 1414.3 190.8 1416.3 191.1C1418.3 191.3 1420.3 191.5 1422.2 191.8C1424.2 192.1 1426.2 192.4 1428.2 192.7C1430.2 193.0 1432.2 193.4 1434.2 193.7C1436.2 194.1 1438.2 194.5 1440.2 194.8C1442.2 195.2 1444.2 195.6 1446.2 196.0C1448.2 196.4 1450.2 196.7 1452.2 197.1C1454.2 197.5 1456.2 197.9 1458.2 198.3L1458.2 523.2L110.0 523.2Z" fill="url(#gGrn)"/>
    <path d="M110.0 523.3C112.0 523.3 114.0 523.3 116.0 523.3C118.0 523.3 120.0 523.3 122.0 523.3C124.0 523.3 126.0 523.3 128.0 523.3C130.0 523.3 132.0 523.3 134.0 523.3C136.0 523.2 138.0 523.2 140.0 523.2C142.0 523.2 144.0 523.2 146.0 523.1C147.9 523.1 149.9 523.0 151.9 522.9C153.9 522.8 155.9 522.6 157.9 522.4C159.9 522.2 161.9 522.0 163.9 521.7C165.9 521.3 167.9 520.9 169.9 520.4C171.9 519.9 173.9 519.3 175.9 518.5C177.9 517.8 179.9 516.9 181.9 515.9C183.9 514.8 185.9 513.7 187.9 512.4C189.9 511.1 191.9 509.7 193.9 508.2C195.9 506.7 197.9 505.1 199.9 503.4C201.9 501.8 203.9 500.0 205.9 498.3C207.9 496.6 209.9 494.8 211.9 493.1C213.9 491.3 215.9 489.6 217.9 487.9C219.9 486.1 221.9 484.4 223.8 482.7C225.8 480.9 227.8 479.2 229.8 477.6C231.8 476.0 233.8 474.4 235.8 472.9C237.8 471.5 239.8 470.1 241.8 468.8C243.8 467.6 245.8 466.5 247.8 465.5C249.8 464.5 251.8 463.7 253.8 462.9C255.8 462.2 257.8 461.6 259.8 461.1C261.8 460.7 263.8 460.3 265.8 460.0C267.8 459.7 269.8 459.5 271.8 459.4C273.8 459.2 275.8 459.1 277.8 459.0C279.8 458.9 281.8 458.8 283.8 458.6C285.8 458.5 287.8 458.3 289.8 458.0C291.8 457.7 293.8 457.4 295.8 456.9C297.7 456.4 299.7 455.9 301.7 455.2C303.7 454.6 305.7 453.9 307.7 453.1C309.7 452.3 311.7 451.5 313.7 450.6C315.7 449.7 317.7 448.7 319.7 447.7C321.7 446.7 323.7 445.7 325.7 444.7C327.7 443.7 329.7 442.6 331.7 441.6C333.7 440.6 335.7 439.6 337.7 438.6C339.7 437.6 341.7 436.7 343.7 435.8C345.7 435.0 347.7 434.2 349.7 433.4C351.7 432.7 353.7 432.1 355.7 431.5C357.7 431.0 359.7 430.5 361.7 430.2C363.7 429.9 365.7 429.7 367.7 429.6C369.7 429.4 371.7 429.4 373.6 429.3C375.6 429.3 377.6 429.3 379.6 429.3C381.6 429.3 383.6 429.3 385.6 429.3C387.6 429.3 389.6 429.3 391.6 429.2C393.6 429.1 395.6 428.9 397.6 428.7C399.6 428.5 401.6 428.2 403.6 427.8C405.6 427.4 407.6 426.9 409.6 426.3C411.6 425.7 413.6 425.0 415.6 424.3C417.6 423.5 419.6 422.7 421.6 421.9C423.6 421.0 425.6 420.2 427.6 419.3C429.6 418.4 431.6 417.5 433.6 416.6C435.6 415.7 437.6 414.8 439.6 414.0C441.6 413.2 443.6 412.4 445.6 411.7C447.5 410.9 449.5 410.3 451.5 409.8C453.5 409.2 455.5 408.8 457.5 408.5C459.5 408.2 461.5 408.0 463.5 408.0C465.5 408.0 467.5 408.1 469.5 408.4C471.5 408.7 473.5 409.2 475.5 409.6C477.5 410.1 479.5 410.7 481.5 411.3C483.5 411.9 485.5 412.5 487.5 413.1C489.5 413.6 491.5 414.2 493.5 414.7C495.5 415.2 497.5 415.7 499.5 416.2C501.5 416.7 503.5 417.3 505.5 417.9C507.5 418.5 509.5 419.1 511.5 419.6C513.5 420.1 515.5 420.5 517.5 420.6C519.5 420.8 521.5 420.8 523.4 420.6C525.4 420.3 527.4 419.9 529.4 419.3C531.4 418.7 533.4 418.0 535.4 417.2C537.4 416.4 539.4 415.5 541.4 414.5C543.4 413.5 545.4 412.5 547.4 411.4C549.4 410.3 551.4 409.2 553.4 408.0C555.4 406.9 557.4 405.6 559.4 404.4C561.4 403.2 563.4 401.9 565.4 400.7C567.4 399.4 569.4 398.2 571.4 397.0C573.4 395.8 575.4 394.7 577.4 393.7C579.4 392.8 581.4 391.9 583.4 391.2C585.4 390.4 587.4 389.8 589.4 389.3C591.4 388.8 593.4 388.4 595.4 388.1C597.3 387.8 599.3 387.6 601.3 387.4C603.3 387.2 605.3 387.0 607.3 386.9C609.3 386.8 611.3 386.8 613.3 386.8C615.3 386.8 617.3 386.8 619.3 386.9C621.3 387.0 623.3 387.2 625.3 387.3C627.3 387.5 629.3 387.7 631.3 388.0C633.3 388.2 635.3 388.5 637.3 388.8C639.3 389.1 641.3 389.4 643.3 389.7C645.3 390.0 647.3 390.4 649.3 390.7C651.3 391.1 653.3 391.4 655.3 391.8C657.3 392.1 659.3 392.5 661.3 392.8C663.3 393.1 665.3 393.4 667.3 393.7C669.3 394.0 671.3 394.3 673.2 394.5C675.2 394.7 677.2 394.9 679.2 395.0C681.2 395.2 683.2 395.3 685.2 395.3C687.2 395.3 689.2 395.3 691.2 395.2C693.2 395.1 695.2 395.0 697.2 394.8C699.2 394.6 701.2 394.3 703.2 394.1C705.2 393.8 707.2 393.5 709.2 393.1C711.2 392.8 713.2 392.4 715.2 392.0C717.2 391.6 719.2 391.1 721.2 390.7C723.2 390.3 725.2 389.8 727.2 389.4C729.2 388.9 731.2 388.4 733.2 388.0C735.2 387.5 737.2 387.1 739.2 386.6C741.2 386.2 743.2 385.8 745.2 385.4C747.1 384.9 749.1 384.5 751.1 384.1C753.1 383.7 755.1 383.3 757.1 382.9C759.1 382.5 761.1 382.1 763.1 381.7C765.1 381.3 767.1 380.8 769.1 380.4C771.1 380.0 773.1 379.5 775.1 378.9C777.1 378.4 779.1 377.8 781.1 377.1C783.1 376.5 785.1 375.7 787.1 374.9C789.1 374.1 791.1 373.2 793.1 372.2C795.1 371.3 797.1 370.3 799.1 369.3C801.1 368.2 803.1 367.2 805.1 366.0C807.1 364.9 809.1 363.8 811.1 362.6C813.1 361.5 815.1 360.3 817.1 359.1C819.1 357.9 821.1 356.7 823.0 355.5C825.0 354.3 827.0 353.1 829.0 352.0C831.0 350.8 833.0 349.8 835.0 348.8C837.0 347.8 839.0 346.9 841.0 346.1C843.0 345.3 845.0 344.5 847.0 343.9C849.0 343.2 851.0 342.7 853.0 342.2C855.0 341.8 857.0 341.4 859.0 341.2C861.0 340.9 863.0 340.7 865.0 340.6C867.0 340.5 869.0 340.5 871.0 340.5C873.0 340.6 875.0 340.7 877.0 340.8C879.0 341.0 881.0 341.1 883.0 341.3C885.0 341.5 887.0 341.7 889.0 341.8C891.0 342.0 893.0 342.1 895.0 342.1C896.9 342.2 898.9 342.1 900.9 341.9C902.9 341.7 904.9 341.4 906.9 341.0C908.9 340.6 910.9 340.0 912.9 339.5C914.9 338.9 916.9 338.2 918.9 337.4C920.9 336.7 922.9 335.9 924.9 335.0C926.9 334.1 928.9 333.1 930.9 332.0C932.9 330.9 934.9 329.7 936.9 328.5C938.9 327.2 940.9 325.9 942.9 324.5C944.9 323.1 946.9 321.6 948.9 320.1C950.9 318.6 952.9 317.1 954.9 315.5C956.9 314.0 958.9 312.4 960.9 310.8C962.9 309.2 964.9 307.6 966.9 306.0C968.9 304.4 970.9 302.9 972.8 301.3C974.8 299.8 976.8 298.3 978.8 296.8C980.8 295.4 982.8 294.0 984.8 292.6C986.8 291.3 988.8 290.0 990.8 288.8C992.8 287.6 994.8 286.5 996.8 285.5C998.8 284.5 1000.8 283.6 1002.8 282.9C1004.8 282.2 1006.8 281.6 1008.8 281.1C1010.8 280.7 1012.8 280.3 1014.8 280.2C1016.8 280.0 1018.8 279.9 1020.8 280.0C1022.8 280.1 1024.8 280.3 1026.8 280.7C1028.8 281.0 1030.8 281.4 1032.8 281.9C1034.8 282.3 1036.8 282.9 1038.8 283.4C1040.8 284.0 1042.8 284.6 1044.8 285.2C1046.7 285.8 1048.7 286.4 1050.7 287.0C1052.7 287.6 1054.7 288.1 1056.7 288.7C1058.7 289.2 1060.7 289.7 1062.7 290.1C1064.7 290.6 1066.7 291.0 1068.7 291.3C1070.7 291.6 1072.7 291.8 1074.7 291.9C1076.7 292.0 1078.7 292.0 1080.7 291.9C1082.7 291.8 1084.7 291.6 1086.7 291.3C1088.7 291.1 1090.7 290.8 1092.7 290.4C1094.7 290.0 1096.7 289.7 1098.7 289.3C1100.7 288.9 1102.7 288.5 1104.7 288.1C1106.7 287.8 1108.7 287.4 1110.7 287.0C1112.7 286.7 1114.7 286.3 1116.7 286.0C1118.7 285.7 1120.7 285.4 1122.6 285.2C1124.6 284.9 1126.6 284.7 1128.6 284.5C1130.6 284.4 1132.6 284.3 1134.6 284.2C1136.6 284.2 1138.6 284.2 1140.6 284.2C1142.6 284.3 1144.6 284.3 1146.6 284.4C1148.6 284.4 1150.6 284.5 1152.6 284.5C1154.6 284.5 1156.6 284.5 1158.6 284.4C1160.6 284.3 1162.6 284.2 1164.6 284.0C1166.6 283.8 1168.6 283.5 1170.6 283.1C1172.6 282.6 1174.6 282.1 1176.6 281.4C1178.6 280.7 1180.6 279.8 1182.6 278.6C1184.6 277.5 1186.6 276.2 1188.6 274.7C1190.6 273.3 1192.6 271.6 1194.6 269.9C1196.5 268.1 1198.5 266.3 1200.5 264.4C1202.5 262.5 1204.5 260.5 1206.5 258.5C1208.5 256.5 1210.5 254.5 1212.5 252.5C1214.5 250.5 1216.5 248.4 1218.5 246.3C1220.5 244.2 1222.5 242.1 1224.5 240.1C1226.5 238.2 1228.5 236.3 1230.5 234.6C1232.5 232.9 1234.5 231.4 1236.5 230.1C1238.5 228.7 1240.5 227.5 1242.5 226.4C1244.5 225.2 1246.5 224.2 1248.5 223.2C1250.5 222.2 1252.5 221.2 1254.5 220.3C1256.5 219.4 1258.5 218.5 1260.5 217.6C1262.5 216.8 1264.5 216.0 1266.5 215.2C1268.5 214.5 1270.5 213.7 1272.4 213.0C1274.4 212.3 1276.4 211.6 1278.4 210.9C1280.4 210.3 1282.4 209.7 1284.4 209.1C1286.4 208.5 1288.4 207.9 1290.4 207.4C1292.4 206.9 1294.4 206.4 1296.4 205.9C1298.4 205.4 1300.4 205.0 1302.4 204.6C1304.4 204.1 1306.4 203.7 1308.4 203.3C1310.4 202.9 1312.4 202.5 1314.4 202.1C1316.4 201.7 1318.4 201.3 1320.4 200.9C1322.4 200.5 1324.4 200.1 1326.4 199.7C1328.4 199.3 1330.4 198.9 1332.4 198.5C1334.4 198.1 1336.4 197.7 1338.4 197.3C1340.4 196.9 1342.4 196.5 1344.4 196.1C1346.3 195.8 1348.3 195.4 1350.3 195.0C1352.3 194.6 1354.3 194.3 1356.3 193.9C1358.3 193.6 1360.3 193.2 1362.3 192.9C1364.3 192.6 1366.3 192.3 1368.3 192.0C1370.3 191.7 1372.3 191.5 1374.3 191.3C1376.3 191.0 1378.3 190.8 1380.3 190.7C1382.3 190.5 1384.3 190.3 1386.3 190.2C1388.3 190.1 1390.3 190.0 1392.3 190.0C1394.3 190.0 1396.3 189.9 1398.3 190.0C1400.3 190.0 1402.3 190.1 1404.3 190.1C1406.3 190.2 1408.3 190.4 1410.3 190.5C1412.3 190.7 1414.3 190.8 1416.3 191.1C1418.3 191.3 1420.3 191.5 1422.2 191.8C1424.2 192.1 1426.2 192.4 1428.2 192.7C1430.2 193.0 1432.2 193.4 1434.2 193.7C1436.2 194.1 1438.2 194.5 1440.2 194.8C1442.2 195.2 1444.2 195.6 1446.2 196.0C1448.2 196.4 1450.2 196.7 1452.2 197.1C1454.2 197.5 1456.2 197.9 1458.2 198.3" fill="none" stroke="#10c876" stroke-width="2.2" stroke-linejoin="round"/>
  </g>


  <!-- y labels -->
  <text class="ylab" x="126" y="119.4" text-anchor="end" fill="#ec1818">High</text>
  <text class="ylab" x="130.4" y="254.7" text-anchor="end" fill="#0f2445">Normal</text>
  <text class="ylab" x="124.5" y="390.7" text-anchor="end" fill="#1e7e24">Low</text>
  <text class="ylab" x="125.5" y="529.6" text-anchor="end" fill="#616161">0</text>

  <!-- x labels -->
  <text class="xlab" x="142.8" y="555.7">0</text>
  <text class="xlab" x="360.5" y="555.7">1h</text>
  <text class="xlab" x="581" y="555.7">2h</text>
  <text class="xlab" x="801" y="555.7">3h</text>
  <text class="xlab" x="1020" y="555.7">4h</text>
  <text class="xlab" x="1239" y="555.7">5h</text>
</svg>

<div id="tip">
  <div class="arrow"></div>
  <div class="dot"></div>
  <div class="title">Glucose Spike</div>
  <svg class="trend" viewBox="631 74 28 20">
    <g fill="none" stroke-linecap="round" stroke-linejoin="round">
      <path d="M635 89.3 L640.7 83.6 L645.1 88 L654.2 78.9 M646.2 78.7 L654.3 78.7 L654.3 86.8" stroke="#0f2445" stroke-width="3.9"/>
      <path d="M635 89.3 L640.7 83.6 L645.1 88 L654.2 78.9 M646.2 78.7 L654.3 78.7 L654.3 86.8" stroke="#ffffff" stroke-width="1.15"/>
    </g>
  </svg>
  <div class="val">+65 mg/dL</div>
  <svg class="face" viewBox="0 0 26 26" role="img" aria-label="neutral face">
    <defs>
      <radialGradient id="fg" cx="0.5" cy="0.42" r="0.56">
        <stop offset="0" stop-color="#fee436"/>
        <stop offset="0.55" stop-color="#fdd32c"/>
        <stop offset="0.85" stop-color="#f9b927"/>
        <stop offset="1" stop-color="#f2a01f"/>
      </radialGradient>
    </defs>
    <circle cx="13" cy="13" r="11.5" fill="url(#fg)"/>
    <ellipse cx="9.15" cy="11.5" rx="1.55" ry="1.95" fill="#3f2a14"/>
    <ellipse cx="16.85" cy="11.5" rx="1.55" ry="1.95" fill="#3f2a14"/>
    <rect x="7.1" y="16.65" width="11.8" height="1.5" rx="0.75" fill="#3a2410"/>
  </svg>
  <div class="feel">Feeling jittery</div>
</div>

<div class="legend" style="left:138px;">
  <div class="dot" style="background:#ec1c1c;"></div>
  <div class="txt">Regular Sugar</div>
</div>
<div class="legend" style="left:546px;">
  <div class="dot" style="background:#10c876;"></div>
  <div class="txt" style="left:69px;letter-spacing:0.95px;">ZeroH</div>
</div>
</body>
</html>
